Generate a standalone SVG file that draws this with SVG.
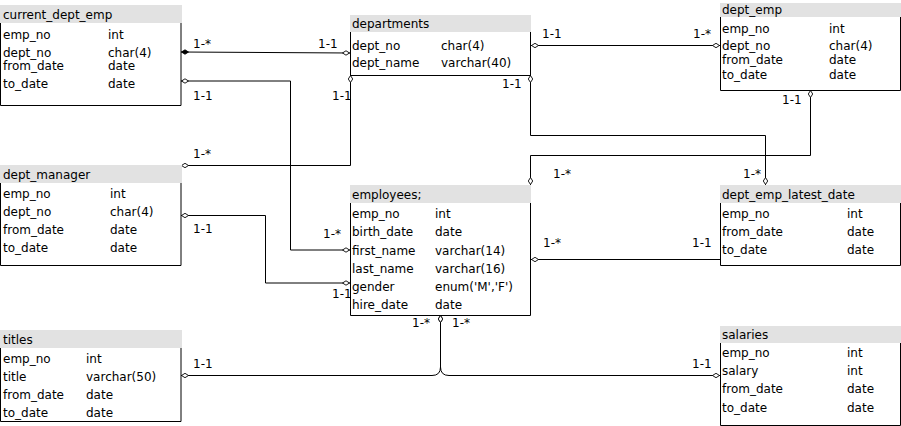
<svg xmlns="http://www.w3.org/2000/svg" width="901" height="426" viewBox="0 0 901 426">
<style>
text{font-family:"DejaVu Sans","Liberation Sans",sans-serif;font-size:12px;fill:#000}
.hd{fill:#e2e2e2}
.bd{fill:none;stroke:#000;stroke-width:1}
.ln{fill:none;stroke:#000;stroke-width:1}
</style>
<defs>
<marker id="d" markerUnits="userSpaceOnUse" markerWidth="8" markerHeight="6" viewBox="0 0 8 6" refX="8" refY="3" orient="auto-start-reverse"><path d="M0.5,3 L4,0.8 L7.5,3 L4,5.2 Z" fill="#fff" stroke="#000" stroke-width="0.9"/></marker>
<marker id="df" markerUnits="userSpaceOnUse" markerWidth="8" markerHeight="6" viewBox="0 0 8 6" refX="8" refY="3" orient="auto-start-reverse"><path d="M0.5,3 L4,0.8 L7.5,3 L4,5.2 Z" fill="#000" stroke="#000" stroke-width="0.9"/></marker>
</defs>
<rect width="901" height="426" fill="#fff"/>

<g id="connectors">
<path class="ln" d="M181,52 L350,53" marker-start="url(#df)" marker-end="url(#d)"/>
<path class="ln" d="M181,81 H290.5 V250 H350" marker-start="url(#d)" marker-end="url(#d)"/>
<path class="ln" d="M350.5,75 V165.5 H181" marker-start="url(#d)" marker-end="url(#d)"/>
<path class="ln" d="M531,45.5 H720" marker-start="url(#d)" marker-end="url(#d)"/>
<path class="ln" d="M530.5,75 V135.5 H765.5 V185" marker-start="url(#d)" marker-end="url(#d)"/>
<path class="ln" d="M810.5,90 V155.5 H530.5 V185" marker-start="url(#d)" marker-end="url(#d)"/>
<path class="ln" d="M181,215.5 H265.5 V283 H350" marker-start="url(#d)" marker-end="url(#d)"/>
<path class="ln" d="M720,259.5 H531" marker-end="url(#d)"/>
<path class="ln" d="M440.5,315 V367 Q440.5,375.5 432,375.5 H181" marker-start="url(#d)" marker-end="url(#d)"/>
<path class="ln" d="M440.5,315 V367 Q440.5,375.5 449,375.5 H720" marker-start="url(#d)" marker-end="url(#d)"/>
<text x="193" y="48">1-*</text>
<text x="318" y="48">1-1</text>
<text x="193" y="100">1-1</text>
<text x="332" y="100">1-1</text>
<text x="193" y="158">1-*</text>
<text x="542" y="38">1-1</text>
<text x="693" y="38">1-*</text>
<text x="502" y="88">1-1</text>
<text x="782" y="104">1-1</text>
<text x="743" y="178">1-*</text>
<text x="553" y="178">1-*</text>
<text x="323" y="238">1-*</text>
<text x="193" y="233">1-1</text>
<text x="332" y="298">1-1</text>
<text x="543" y="247">1-*</text>
<text x="692" y="247">1-1</text>
<text x="412" y="327">1-*</text>
<text x="452" y="327">1-*</text>
<text x="193" y="368">1-1</text>
<text x="692" y="368">1-1</text>
</g>

<g id="current_dept_emp">
<rect class="hd" x="0" y="5" width="182" height="18"/>
<path class="bd" d="M0.5,23 V105.5 H181 V23"/>
<text x="3" y="19">current_dept_emp</text>
<text x="3" y="38.5">emp_no</text><text x="108" y="38.5">int</text>
<text x="3" y="56.5">dept_no</text><text x="108" y="56.5">char(4)</text>
<text x="3" y="69.5">from_date</text><text x="108" y="69.5">date</text>
<text x="3" y="88">to_date</text><text x="108" y="88">date</text>
</g>

<g id="departments">
<rect class="hd" x="350" y="15" width="181" height="17"/>
<path class="bd" d="M350.5,32 V75.5 H530.5 V32"/>
<text x="352" y="28">departments</text>
<text x="352" y="50">dept_no</text><text x="441" y="50">char(4)</text>
<text x="352" y="67">dept_name</text><text x="441" y="67">varchar(40)</text>
</g>

<g id="dept_emp">
<rect class="hd" x="720" y="3" width="181" height="14"/>
<path class="bd" d="M720.5,17 V90.5 H900.5 V17"/>
<text x="722" y="14">dept_emp</text>
<text x="722" y="32.5">emp_no</text><text x="829" y="32.5">int</text>
<text x="722" y="50">dept_no</text><text x="829" y="50">char(4)</text>
<text x="722" y="63.5">from_date</text><text x="829" y="63.5">date</text>
<text x="722" y="79">to_date</text><text x="829" y="79">date</text>
</g>

<g id="dept_manager">
<rect class="hd" x="0" y="165" width="182" height="18"/>
<path class="bd" d="M0.5,183 V265.5 H181 V183"/>
<text x="3" y="179">dept_manager</text>
<text x="3" y="198">emp_no</text><text x="110" y="198">int</text>
<text x="3" y="216">dept_no</text><text x="110" y="216">char(4)</text>
<text x="3" y="234">from_date</text><text x="110" y="234">date</text>
<text x="3" y="252">to_date</text><text x="110" y="252">date</text>
</g>

<g id="employees">
<rect class="hd" x="350" y="185" width="181" height="18"/>
<path class="bd" d="M350.5,203 V315.5 H530.5 V203"/>
<text x="352" y="199">employees;</text>
<text x="352" y="218">emp_no</text><text x="435" y="218">int</text>
<text x="352" y="236">birth_date</text><text x="435" y="236">date</text>
<text x="352" y="254.5">first_name</text><text x="435" y="254.5">varchar(14)</text>
<text x="352" y="272.5">last_name</text><text x="435" y="272.5">varchar(16)</text>
<text x="352" y="291">gender</text><text x="435" y="291">enum('M','F')</text>
<text x="352" y="309">hire_date</text><text x="435" y="309">date</text>
</g>

<g id="dept_emp_latest_date">
<rect class="hd" x="720" y="185" width="181" height="18"/>
<path class="bd" d="M720.5,203 V265.5 H900.5 V203"/>
<text x="722" y="199">dept_emp_latest_date</text>
<text x="722" y="218">emp_no</text><text x="847" y="218">int</text>
<text x="722" y="236">from_date</text><text x="847" y="236">date</text>
<text x="722" y="254">to_date</text><text x="847" y="254">date</text>
</g>

<g id="titles">
<rect class="hd" x="0" y="330" width="182" height="18"/>
<path class="bd" d="M0.5,348 V421.5 H181 V348"/>
<text x="3" y="344">titles</text>
<text x="3" y="363">emp_no</text><text x="86" y="363">int</text>
<text x="3" y="381">title</text><text x="86" y="381">varchar(50)</text>
<text x="3" y="399">from_date</text><text x="86" y="399">date</text>
<text x="3" y="417">to_date</text><text x="86" y="417">date</text>
</g>

<g id="salaries">
<rect class="hd" x="720" y="326" width="181" height="17"/>
<path class="bd" d="M720.5,343 V425.5 H900.5 V343"/>
<text x="722" y="339">salaries</text>
<text x="722" y="357">emp_no</text><text x="847" y="357">int</text>
<text x="722" y="375">salary</text><text x="847" y="375">int</text>
<text x="722" y="393">from_date</text><text x="847" y="393">date</text>
<text x="722" y="412">to_date</text><text x="847" y="412">date</text>
</g>
</svg>
